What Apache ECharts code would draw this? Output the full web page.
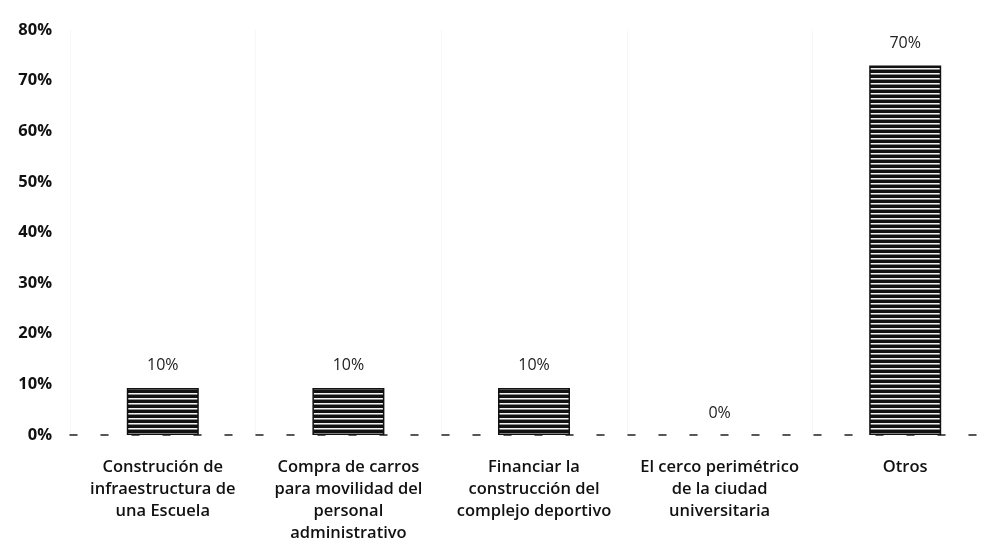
<!DOCTYPE html>
<html>
<head>
<meta charset="utf-8">
<script src="https://cdn.jsdelivr.net/npm/echarts@6/dist/echarts.min.js"></script>
<style>html,body{margin:0;padding:0;background:#fff}#c{width:998px;height:556px}</style>
</head>
<body>
<div id="c"></div>
<script>
const categories = [
  "Construción de\ninfraestructura de\nuna Escuela",
  "Compra de carros\npara movilidad del\npersonal\nadministrativo",
  "Financiar la\nconstrucción del\ncomplejo deportivo",
  "El cerco perimétrico\nde la ciudad\nuniversitaria",
  "Otros"
];
const values = [9.3, 9.3, 9.3, 0, 73];
const valueLabels = ["10%", "10%", "10%", "0%", "70%"];
const yTicks = [0, 10, 20, 30, 40, 50, 60, 70, 80];

function stripePattern() {
  const c = document.createElement('canvas');
  c.width = 8; c.height = 5;
  const g = c.getContext('2d');
  g.fillStyle = '#111';
  g.fillRect(0, 0, 8, 5);
  g.fillStyle = '#f2f2f2';
  g.fillRect(0, 3, 8, 1);
  g.fillStyle = '#888';
  g.fillRect(0, 4, 8, 1);
  return c;
}

const chart = echarts.init(document.getElementById('c'), null, {renderer: 'canvas'});
const font = '"Open Sans", Lato, sans-serif';
chart.setOption({
  animation: false,
  backgroundColor: '#fff',
  grid: {left: 70, right: -8, top: 30, bottom: 121, containLabel: false},
  xAxis: {
    type: 'category',
    data: categories,
    axisLine: {show: true, lineStyle: {color: '#222', width: 1.5, type: [7, 24]}},
    axisTick: {show: false},
    splitLine: {show: true, lineStyle: {color: '#f7f7f7'}},
    axisLabel: {
      interval: 0, margin: 21, fontSize: 16.5, lineHeight: 22,
      color: '#111', fontFamily: font, fontWeight: 600
    }
  },
  yAxis: {
    type: 'value',
    min: yTicks[0], max: yTicks[yTicks.length - 1], interval: 10,
    axisLine: {show: false},
    axisTick: {show: false},
    splitLine: {show: false},
    axisLabel: {
      margin: 18, fontSize: 16.5, color: '#111', fontFamily: font, fontWeight: 'bold',
      formatter: v => v + '%'
    }
  },
  series: [{
    type: 'bar',
    data: values.map((v, i) => ({
      value: v,
      label: {formatter: valueLabels[i]},
      itemStyle: v === 0 ? {borderWidth: 0, color: 'rgba(0,0,0,0)'} : undefined
    })),
    barWidth: 72,
    itemStyle: {
      color: {image: stripePattern(), repeat: 'repeat'},
      borderColor: '#111', borderWidth: 1.5
    },
    label: {
      show: true, position: 'top', distance: 14,
      fontSize: 16, color: '#222', fontFamily: font
    }
  }]
});
</script>
</body>
</html>
